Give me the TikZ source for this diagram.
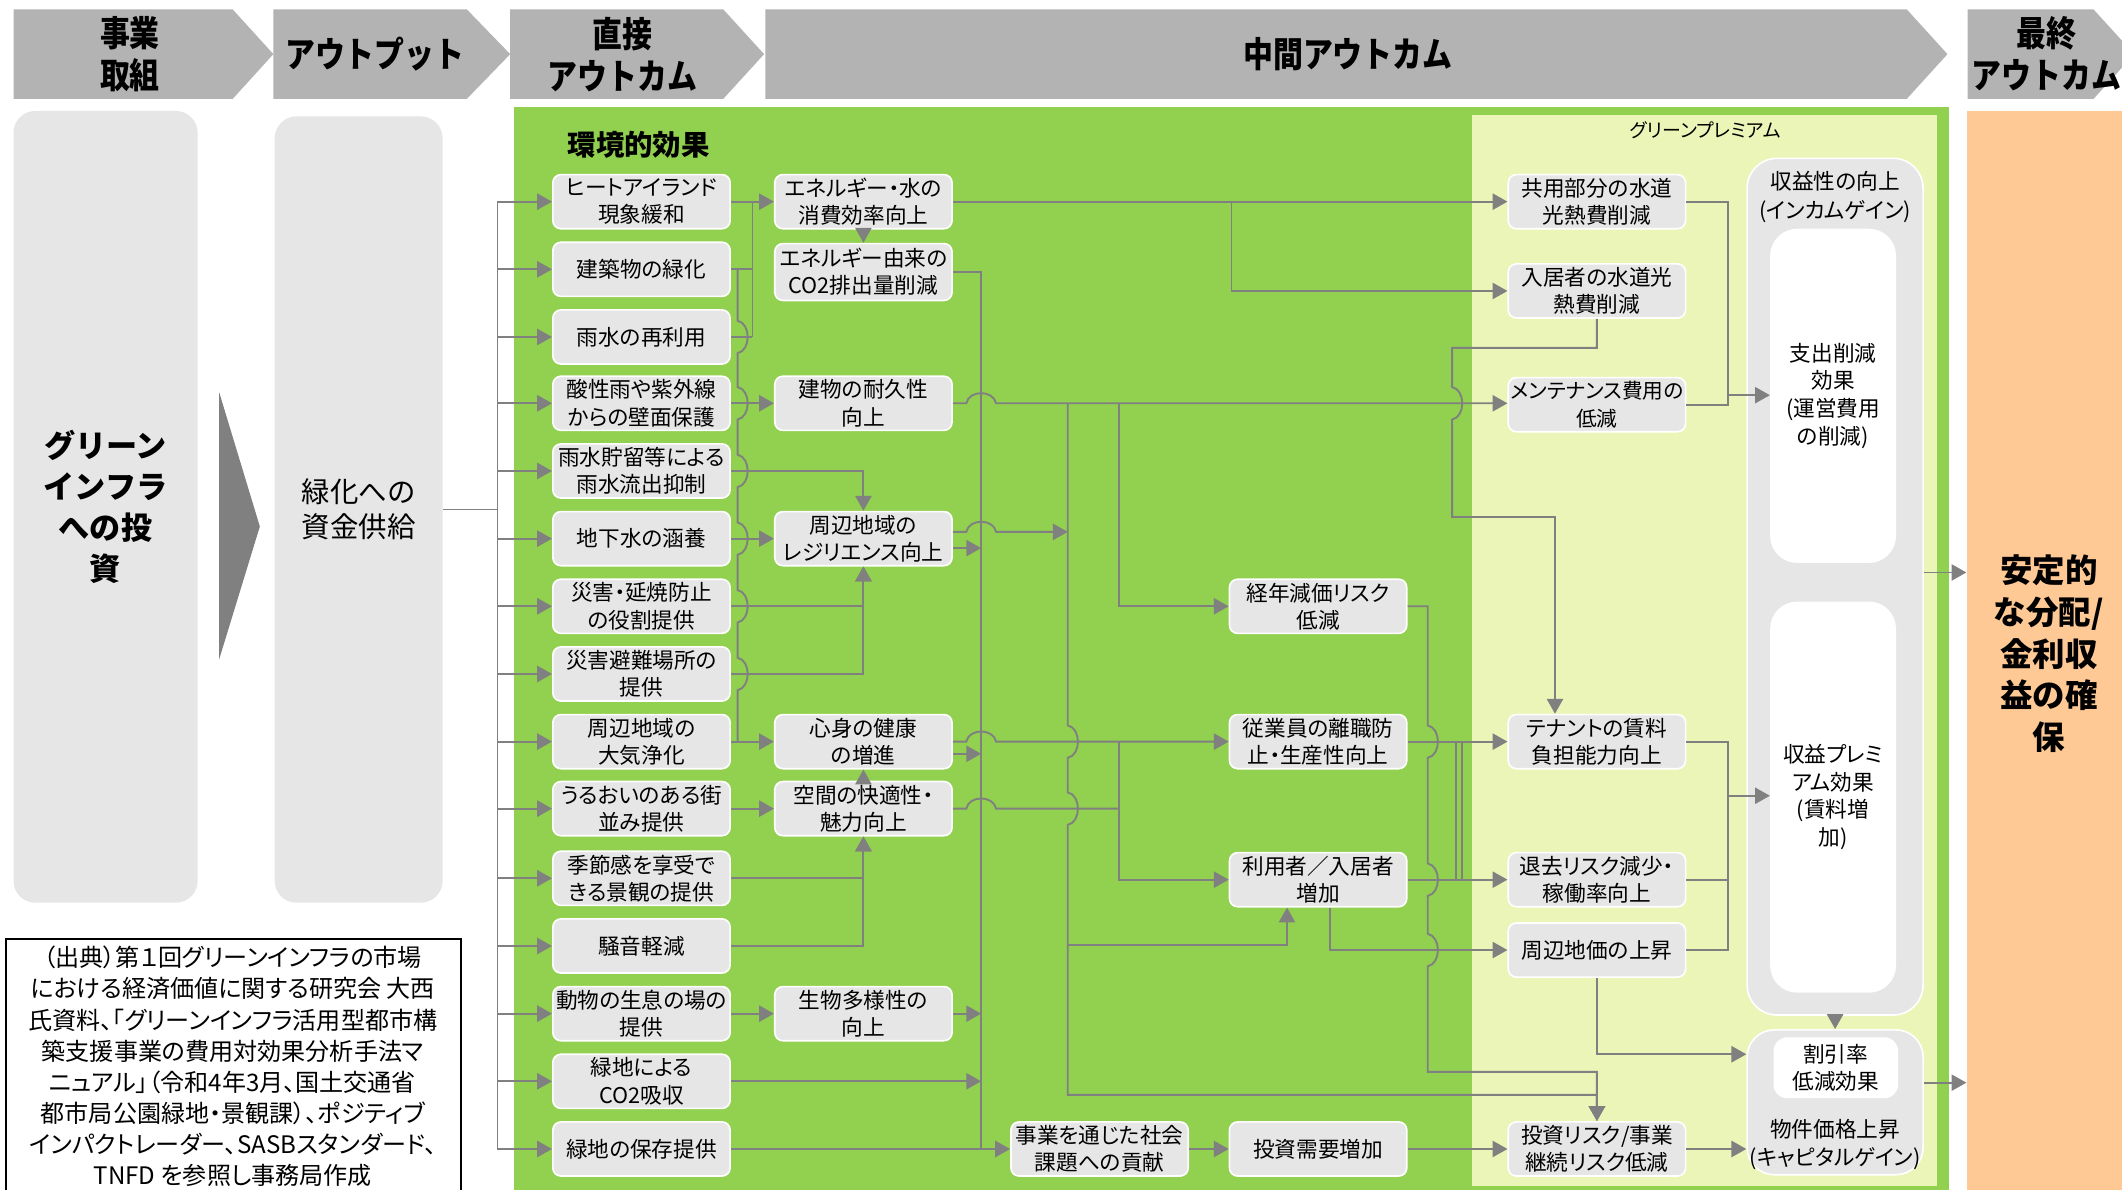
\documentclass[tikz,border=0pt]{standalone}
\usepackage{fontspec}
\usetikzlibrary{arrows.meta}
\setmainfont{Noto Sans CJK JP}[RawFeature=+palt]
\newfontfamily\jpfull{Noto Sans CJK JP}
\newfontfamily\hdrfont{Noto Sans CJK JP}[FakeStretch=0.85]
\definecolor{hdr}{HTML}{B3B3B3}
\definecolor{boxg}{HTML}{E6E6E6}
\definecolor{grn}{HTML}{92D050}
\definecolor{lgrn}{HTML}{EBF5B7}
\definecolor{peachc}{HTML}{FFC996}
\definecolor{lng}{HTML}{808080}
\newcommand\hjmp[2]{-- ({#1-11},#2) .. controls ({#1-9},{#2-10}) and ({#1+9},{#2-10}) .. ({#1+11},#2)}
\newcommand\vjmp[2]{-- (#1,{#2-12}) .. controls ({#1+10},{#2-10}) and ({#1+10},{#2+10}) .. (#1,{#2+12})}
\tikzset{
  bx/.style={draw=white, line width=1.2pt, fill=boxg, rounded corners=6pt, minimum width=131pt, minimum height=40pt, inner sep=0pt, align=center, font=\fontsize{16}{20}\selectfont, text=black},
  ln/.style={draw=lng, line width=1.4pt},
  ar/.style={ln, -{Triangle[length=11pt,width=12pt]}},
  hdrtxt/.style={font=\hdrfont\bfseries\fontsize{26}{31}\selectfont, align=center, inner sep=0pt},
  cont/.style={draw=white, line width=1.2pt, fill=boxg, rounded corners=22pt, inner sep=0pt},
  wbox/.style={fill=white, rounded corners=20pt, inner sep=0pt, align=center, font=\fontsize{16}{20.5}\selectfont},
  ctxt/.style={align=center, inner sep=0pt, font=\fontsize{16}{21}\selectfont},
}
\begin{document}
\begin{tikzpicture}[x=1pt,y=-1pt]
\useasboundingbox (0,0) rectangle (1568,879);
\clip (0,0) rectangle (1568,879);
\fill[white] (0,0) rectangle (1568,879);
% header chevrons
\fill[hdr] (10,7) -- (172,7) -- (202,40) -- (172,73) -- (10,73) -- cycle;
\fill[hdr] (202,7) -- (345,7) -- (377,40) -- (345,73) -- (202,73) -- cycle;
\fill[hdr] (377,7) -- (534.5,7) -- (564.6,40) -- (534.5,73) -- (377,73) -- cycle;
\fill[hdr] (565.5,7) -- (1409,7) -- (1439,40) -- (1409,73) -- (565.5,73) -- cycle;
\fill[hdr] (1454,7) -- (1547,7) -- (1577,40) -- (1547,73) -- (1454,73) -- cycle;
\node[hdrtxt] (t1) at (96,40) {事業\\取組};
\node[hdrtxt] (t2) at (277,40) {アウトプット};
\node[hdrtxt] (t3) at (460,40) {直接\\アウトカム};
\node[hdrtxt] (t4) at (996,40) {中間アウトカム};
\node[hdrtxt] (t5) at (1512,40) {最終\\アウトカム};
% regions
\fill[grn] (380,79) rectangle (1440,880);
\fill[lgrn] (1088,85) rectangle (1431,876);
\node[fill=peachc, minimum width=120pt, minimum height=800pt, inner sep=0pt, anchor=north west] (P) at (1453,82) {};
\node[font=\jpfull\bfseries\fontsize{24}{31}\selectfont, align=center, inner sep=0pt] (Pt) at (1514,483) {安定的\\な分配/\\金利収\\益の確\\保};
\node[font=\jpfull\bfseries\fontsize{21}{21}\selectfont, inner sep=0pt] (kk) at (472,107) {環境的効果};
\node[font=\fontsize{14}{14}\selectfont, inner sep=0pt] (gp) at (1260,96) {グリーンプレミアム};
% left boxes
\node[fill=boxg, rounded corners=16pt, minimum width=136pt, minimum height=585pt, inner sep=0pt, align=center, font=\jpfull\bfseries\fontsize{23}{30.5}\selectfont] (A) at (78,374.5) {グリーン\\インフラ\\への投\\資};
\fill[lng] (162,290) -- (192,389) -- (162,487) -- cycle;
\node[fill=boxg, rounded corners=16pt, minimum width=124pt, minimum height=581pt, inner sep=0pt, align=center, font=\jpfull\fontsize{21}{26}\selectfont] (B) at (265,376.5) {緑化への\\資金供給};
% footnote
\node[draw=black, line width=1.3pt, fill=white, minimum width=336pt, minimum height=200pt, inner sep=0pt, anchor=north west] (fn) at (4,693) {};
\node[align=center, inner sep=0pt, font=\fontsize{17.8}{23}\selectfont] (fnt) at (172,788) {（出典）第１回グリーンインフラの市場\\における経済価値に関する研究会 大西\\氏資料、「グリーンインフラ活用型都市構\\築支援事業の費用対効果分析手法マ\\ニュアル」（令和4年3月、国土交通省\\都市局公園緑地・景観課）、ポジティブ\\インパクトレーダー、SASBスタンダード、\\TNFD を参照し事務局作成};
% column 1
\node[bx] (h1) at (474,149) {ヒートアイランド\\現象緩和};
\node[bx] (h2) at (474,199) {建築物の緑化};
\node[bx] (h3) at (474,249) {雨水の再利用};
\node[bx] (h4) at (474,298) {酸性雨や紫外線\\からの壁面保護};
\node[bx] (h5) at (474,348) {雨水貯留等による\\雨水流出抑制};
\node[bx] (h6) at (474,398) {地下水の涵養};
\node[bx] (h7) at (474,448) {災害・延焼防止\\の役割提供};
\node[bx] (h8) at (474,498) {災害避難場所の\\提供};
\node[bx] (h9) at (474,548) {周辺地域の\\大気浄化};
\node[bx] (h10) at (474,597.5) {うるおいのある街\\並み提供};
\node[bx] (h11) at (474,649) {季節感を享受で\\きる景観の提供};
\node[bx] (h12) at (474,699) {騒音軽減};
\node[bx] (h13) at (474,749) {動物の生息の場の\\提供};
\node[bx] (h14) at (474,799) {緑地による\\CO2吸収};
\node[bx] (h15) at (474,849) {緑地の保存提供};
% column 2
\node[bx] (e1) at (638,149) {エネルギー・水の\\消費効率向上};
\node[bx, minimum height=42pt] (e2) at (638,201) {エネルギー由来の\\CO2排出量削減};
\node[bx] (e3) at (638,298) {建物の耐久性\\向上};
\node[bx] (e4) at (638,398) {周辺地域の\\レジリエンス向上};
\node[bx] (e5) at (638,548) {心身の健康\\の増進};
\node[bx] (e6) at (638,597.5) {空間の快適性・\\魅力向上};
\node[bx] (e7) at (638,749) {生物多様性の\\向上};
% column 3
\node[bx] (s1) at (812.5,849) {事業を通じた社会\\課題への貢献};
% column 4
\node[bx] (m1) at (974,448) {経年減価リスク\\低減};
\node[bx] (m2) at (974,548) {従業員の離職防\\止・生産性向上};
\node[bx] (m3) at (974,650) {利用者／入居者\\増加};
\node[bx] (m4) at (974,849) {投資需要増加};
% column 5
\node[bx] (g1) at (1180,149) {共用部分の水道\\光熱費削減};
\node[bx] (g2) at (1180,215) {入居者の水道光\\熱費削減};
\node[bx, font=\fontsize{15.3}{20}\selectfont] (g3) at (1180,299) {メンテナンス費用の\\低減};
\node[bx] (g4) at (1180,548) {テナントの賃料\\負担能力向上};
\node[bx] (g5) at (1180,650) {退去リスク減少・\\稼働率向上};
\node[bx] (g6) at (1180,702) {周辺地価の上昇};
\node[bx] (g7) at (1180,849) {投資リスク/事業\\継続リスク低減};
% containers
\node[cont, minimum width=130pt, minimum height=633pt] (R1) at (1356,433.5) {};
\node[ctxt] (R1t) at (1356,145.5) {収益性の向上\\(インカムゲイン)};
\node[wbox, minimum width=93pt, minimum height=247pt] (W1) at (1354.5,292.5) {支出削減\\効果\\(運営費用\\の削減)};
\node[wbox, minimum width=93pt, minimum height=289pt] (W2) at (1354.5,589) {収益プレミ\\アム効果\\(賃料増\\加)};
\node[cont, rounded corners=20pt, minimum width=130pt, minimum height=107pt] (R2) at (1356,814.5) {};
\node[wbox, rounded corners=10pt, minimum width=92pt, minimum height=45pt] (W3) at (1356.5,789) {割引率\\低減効果};
\node[ctxt] (R2t) at (1356,845.5) {物件価格上昇\\(キャピタルゲイン)};
% left bus
\coordinate (lbus) at (367.6,376.5);
\draw[ln] (B.east) -- (lbus);
\draw[ln] (367.6,149) -- (367.6,849);
\foreach \i in {1,...,15} \draw[ar] (h\i.west -| lbus) -- (h\i.west);
% col1 -> col2
\draw[ar] (h1.east) -- (e1.west);
\draw[ln] (h2.east) -- (556,199);
\draw[ln] (h3.east) -- (556,249);
\draw[ln] (556,149) -- (556,249);
\draw[ln] (545,199) \vjmp{545}{249} \vjmp{545}{298} \vjmp{545}{348} \vjmp{545}{398} \vjmp{545}{448} \vjmp{545}{498} -- (545,548);
\draw[ar] (h4.east) -- (e3.west);
\draw[ar] (h5.east) -| (e4.north);
\draw[ar] (h6.east) -- (e4.west);
\draw[ar] (h7.east) -| (e4.south);
\draw[ar] (h8.east) -| (e4.south);
\draw[ar] (h9.east) -- (e5.west);
\draw[ar] (h10.east) -- (e6.west);
\draw[ar] (h11.east) -| (e6.south);
\draw[ar] (h12.east) -| (e6.south);
\draw[ar] (h13.east) -- (e7.west);
\draw[ar] (h14.east) -- (725,799);
\draw[ar] (h15.east) -- (s1.west);
\draw[ar] (e1.south) -- (e2.north);
\draw[ar] (e6.north) -- (e5.south);
% bus 1
\draw[ln] (e2.east) -| (725,849);
\draw[ar] (e4.east |- 0,405) -- (725,405);
\draw[ar] (e5.east |- 0,557) -- (725,557);
\draw[ar] (e7.east) -- (725,749);
\draw[ar] (e3.east) \hjmp{725}{298} -- (g3.west |- 0,298);
\draw[ar] (e4.east |- 0,393) \hjmp{725}{393} -- (789,393);
\draw[ar] (e5.east) \hjmp{725}{548} -- (m2.west);
\draw[ln] (e6.east) \hjmp{725}{597.5} -- (827,597.5);
% bus 2
\draw[ar] (789,298) \vjmp{789}{548} \vjmp{789}{597.5} -- (789,809) -| (g7.north);
\draw[ar] (789,698) -- (951,698) -- (m3.south -| 951,0);
\draw[ar] (827,298) |- (m1.west);
\draw[ar] (827,548) |- (m3.west);
% energy line
\draw[ar] (e1.east) -- (g1.west);
\draw[ar] (910,149) |- (g2.west);
% column 4 links
\draw[ar] (m1.east) -- (1055,448) \vjmp{1055}{548} \vjmp{1055}{650} \vjmp{1055}{702} -- (1055,792) -| (g7.north);
\draw[ar] (m2.east) -- (g4.west);
\draw[ar] (m3.east) -- (g5.west);
\draw[ln] (1076,548) -- (1076,650);
\draw[ln] (1080,548) -- (1080,650);
\draw[ar] (m3.south -| 983,0) |- (g6.west);
\draw[ar] (s1.east) -- (m4.west);
\draw[ar] (m4.east) -- (g7.west);
% g2 -> g4
\draw[ar] (g2.south) -- (1180,257) -- (1073,257) \vjmp{1073}{298} -- (1073,382) -- (1149,382) -- (g4.north -| 1149,0);
% right side
\draw[ln] (g1.east) -| (1277,299) -- (g3.east);
\draw[ar] (1277,292) -- (W1.west |- 0,292);
\draw[ln] (g4.east) -| (1277,702) -- (g6.east);
\draw[ln] (g5.east) -- (1277,650);
\draw[ar] (1277,588) -- (W2.west |- 0,588);
\draw[ar] (g6.south) |- (R2.west |- 0,779);
\draw[ar] (g7.east) -- (R2.west |- 0,849);
\draw[ar] (R1.south) -- (R2.north);
\draw[ar] (R1.east |- 0,423) -- (P.west |- 0,423);
\draw[ar] (R2.east |- 0,800) -- (P.west |- 0,800);
\end{tikzpicture}
\end{document}
